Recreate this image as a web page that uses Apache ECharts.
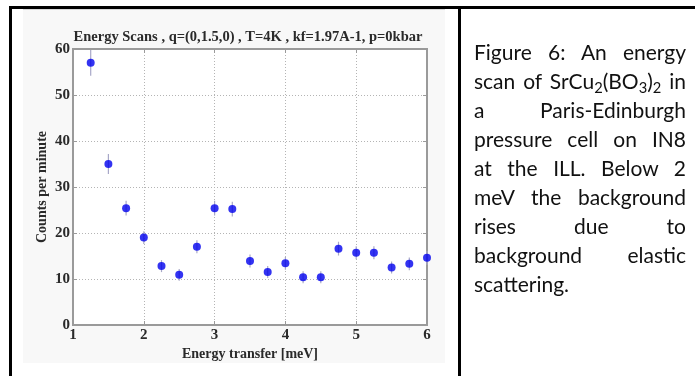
<!DOCTYPE html>
<html>
<head>
<meta charset="utf-8">
<script src="https://cdn.jsdelivr.net/npm/echarts@6/dist/echarts.min.js"></script>
<style>
  html, body { margin: 0; padding: 0; background: #fff; }
  #page { position: relative; width: 695px; height: 376px; overflow: hidden; }
  .rule { position: absolute; background: #000; }
  #figbg { position: absolute; left: 23px; top: 9px; width: 422px; height: 353px; background: #f8f8f8; border-top: 1px solid #d8d8d8; }
  #chart { position: absolute; left: 0; top: 0; width: 695px; height: 376px; }
  #caption { position: absolute; left: 474px; top: 37px; width: 212px; font-family: Lato, sans-serif; font-size: 21px; line-height: 29px; color: #111; }
  #caption div { white-space: nowrap; text-align: justify; text-align-last: justify; }
  #caption div.last { text-align-last: left; }
  sub { font-size: 0.7em; vertical-align: -0.25em; line-height: 0; }
</style>
</head>
<body>
<div id="page">
  <div id="figbg"></div>
  <div id="chart"></div>
  <div class="rule" style="left:9px;top:6px;width:686px;height:3px"></div>
  <div class="rule" style="left:9px;top:6px;width:3px;height:370px"></div>
  <div class="rule" style="left:458px;top:6px;width:3px;height:370px"></div>
  <div id="caption">
    <div>Figure 6: An energy</div>
    <div>scan of SrCu<sub>2</sub>(BO<sub>3</sub>)<sub>2</sub> in</div>
    <div>a Paris-Edinburgh</div>
    <div>pressure cell on IN8</div>
    <div>at the ILL. Below 2</div>
    <div>meV the background</div>
    <div>rises due to</div>
    <div>background elastic</div>
    <div class="last">scattering.</div>
  </div>
</div>
<script>
  // energy scan points
  const energy = [1.25, 1.5, 1.75, 2.0, 2.25, 2.5, 2.75, 3.0, 3.25, 3.5, 3.75, 4.0, 4.25, 4.5, 4.75, 5.0, 5.25, 5.5, 5.75, 6.0];
  const counts = [57.0, 35.0, 25.4, 19.0, 12.8, 10.9, 17.0, 25.4, 25.2, 13.9, 11.5, 13.4, 10.4, 10.4, 16.6, 15.7, 15.7, 12.5, 13.3, 14.6];
  const errors = [2.8, 2.2, 1.6, 1.4, 1.3, 1.3, 1.4, 1.6, 1.6, 1.4, 1.3, 1.4, 1.3, 1.3, 1.5, 1.4, 1.4, 1.3, 1.4, 1.5];
  const xTicks = [1, 2, 3, 4, 5, 6];
  const yTicks = [0, 10, 20, 30, 40, 50, 60];

  const serif = 'Liberation Serif';
  const points = energy.map((e, i) => [e, counts[i]]);
  const bars = energy.map((e, i) => [e, counts[i], errors[i]]);

  const frame = { color: '#9a9a9a', width: 2 };
  const dotted = { color: '#b4b4b4', type: [1, 2], width: 1 };
  const tickLabel = { color: '#2a2a2a', fontFamily: serif, fontSize: 15, fontWeight: 'bold' };
  const axisName = { color: '#2a2a2a', fontFamily: serif, fontSize: 14, fontWeight: 'bold' };

  const chart = echarts.init(document.getElementById('chart'));
  chart.setOption({
    animation: false,
    title: {
      text: 'Energy Scans , q=(0,1.5,0) , T=4K , kf=1.97A-1, p=0kbar',
      left: 243,
      top: 25,
      textAlign: 'center',
      textStyle: { fontFamily: serif, fontSize: 14.5, fontWeight: 'bold', color: '#2a2a2a' },
    },
    grid: {
      left: 73, right: 268, top: 49, bottom: 51,
      show: true, backgroundColor: '#fff', borderColor: '#9a9a9a', borderWidth: 2,
    },
    xAxis: [
      {
        type: 'value', min: xTicks[0], max: xTicks[xTicks.length - 1], interval: 1,
        axisLine: { show: true, onZero: false, lineStyle: frame },
        axisTick: { show: true, inside: true, length: 4, lineStyle: { color: '#9a9a9a' } },
        splitLine: { show: true, lineStyle: dotted },
        axisLabel: Object.assign({ margin: 3 }, tickLabel),
        name: 'Energy transfer [meV]', nameLocation: 'middle', nameGap: 22,
        nameMoveOverlap: false,
        nameTextStyle: axisName,
      },
      {
        type: 'value', position: 'top', min: xTicks[0], max: xTicks[xTicks.length - 1], interval: 1,
        axisLine: { show: true, onZero: false, lineStyle: frame },
        axisTick: { show: true, inside: true, length: 4, lineStyle: { color: '#9a9a9a' } },
        axisLabel: { show: false }, splitLine: { show: false },
      },
    ],
    yAxis: [
      {
        type: 'value', min: yTicks[0], max: yTicks[yTicks.length - 1], interval: 10,
        axisLine: { show: true, onZero: false, lineStyle: frame },
        axisTick: { show: true, inside: true, length: 4, lineStyle: { color: '#9a9a9a' } },
        splitLine: { show: true, lineStyle: dotted },
        axisLabel: Object.assign({ margin: 3 }, tickLabel),
        name: 'Counts per minute', nameLocation: 'middle', nameGap: 24,
        nameMoveOverlap: false,
        nameTextStyle: axisName,
      },
      {
        type: 'value', position: 'right', min: yTicks[0], max: yTicks[yTicks.length - 1], interval: 10,
        axisLine: { show: true, onZero: false, lineStyle: frame },
        axisTick: { show: true, inside: true, length: 4, lineStyle: { color: '#9a9a9a' } },
        axisLabel: { show: false }, splitLine: { show: false },
      },
    ],
    series: [
      {
        type: 'custom',
        clip: false,
        data: bars,
        z: 2,
        renderItem: function (params, api) {
          const x = api.value(0), y = api.value(1), e = api.value(2);
          const lo = api.coord([x, y - e]);
          const hi = api.coord([x, y + e]);
          return {
            type: 'line',
            shape: { x1: lo[0], y1: lo[1], x2: hi[0], y2: hi[1] },
            style: { stroke: '#a8a8c8', lineWidth: 1.2 },
          };
        },
      },
      {
        type: 'scatter',
        clip: false,
        data: points,
        symbol: 'circle',
        symbolSize: 8,
        itemStyle: { color: '#0000ee' },
        z: 3,
      },
    ],
  });
</script>
</body>
</html>
